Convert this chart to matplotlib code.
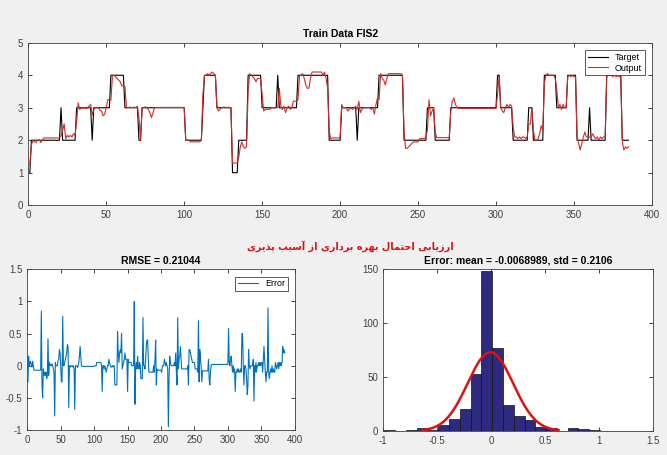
import numpy as np
import matplotlib
matplotlib.use("Agg")
from matplotlib import pyplot as plt
from matplotlib.ticker import FuncFormatter
from matplotlib import font_manager

# target levels as (value, run length)
target_runs = [(1, 1), (2, 19), (3, 1), (2, 9), (3, 10), (2, 1), (3, 11), (4, 9),
               (3, 9), (2, 2), (3, 28), (2, 11), (3, 1), (4, 8), (3, 10), (1, 4),
               (2, 6), (4, 9), (3, 10), (4, 1), (3, 12), (4, 20), (2, 8), (3, 10),
               (2, 1), (3, 13), (4, 16), (2, 15), (3, 5), (2, 10), (3, 30), (4, 2),
               (3, 8), (2, 10), (3, 3), (2, 7), (4, 8), (3, 7), (4, 6), (2, 8),
               (3, 1), (2, 10), (4, 10), (2, 5)]

# error = target - output (10 samples per row)
error = [
    -0.25, 0.15, 0.0, 0.05, 0.07, 0.0, -0.02, 0.07, 0.0, -0.07,
    -0.07, -0.07, -0.07, -0.07, -0.07, -0.07, -0.07, -0.07, -0.07, -0.07,
    0.85, -0.3, -0.5, -0.05, -0.15, -0.1, -0.15, -0.1, -0.2, -0.15,
    0.42, -0.15, 0.05, 0.0, 0.02, 0.0, 0.03, 0.0, -0.05, -0.1,
    -0.78, 0.05, 0.0, 0.0, 0.0, 0.08, 0.1, 0.25, 0.2, 0.0,
    -0.25, -0.25, 0.77, 0.0, 0.0, 0.05, 0.1, 0.15, 0.2, 0.33,
    0.3, -0.65, 0.0, 0.0, -0.02, 0.0, 0.0, -0.02, 0.0, -0.05,
    -0.68, 0.0, 0.0, 0.0, -0.03, 0.0, 0.05, 0.15, 0.3, 0.15,
    0.0, -0.01, -0.01, -0.01, -0.01, -0.01, -0.01, -0.01, -0.01, -0.01,
    -0.01, -0.01, -0.01, -0.01, -0.01, -0.01, -0.01, -0.01, -0.01, -0.01,
    0.0, 0.0, 0.0, 0.05, 0.05, 0.05, 0.05, 0.05, 0.05, 0.05,
    0.0, -0.4, 0.0, 0.0, -0.05, 0.0, -0.05, -0.1, -0.05, 0.0,
    0.0, 0.1, 0.05, 0.0, -0.02, -0.02, 0.0, -0.02, 0.0, 0.0,
    -0.3, -0.3, -0.3, -0.3, 0.53, 0.2, 0.05, 0.2, 0.25, 0.2,
    0.5, -0.05, 0.0, 0.05, 0.1, 0.2, 0.1, 0.1, 0.1, -0.4,
    0.1, 0.05, 0.05, 0.05, 0.05, 0.0, 0.0, 0.0, 0.0, 1.0,
    -0.6, -0.05, 0.05, -0.05, 0.15, 0.0, -0.05, 0.05, 0.0, -0.2,
    -0.2, -0.2, 0.75, 0.0, 0.0, -0.05, 0.1, 0.3, 0.4, 0.4,
    0.1, -0.1, -0.1, -0.1, -0.1, -0.1, -0.1, -0.1, 0.0, -0.1,
    0.1, 0.4, -0.3, -0.05, -0.07, -0.07, -0.07, -0.07, -0.07, -0.07,
    -0.1, 0.0, 0.0, 0.0, 0.1, 0.05, 0.0, 0.05, 0.0, -0.05,
    -0.95, -0.2, 0.15, 0.05, 0.0, 0.0, 0.0, 0.0, 0.0, 0.05,
    0.0, 0.2, -0.1, -0.3, 0.75, -0.05, 0.1, 0.15, 0.3, 0.1,
    -0.05, -0.05, -0.05, -0.05, -0.05, -0.05, -0.05, -0.05, -0.05, 0.0,
    -0.3, 0.25, 0.25, 0.2, 0.15, 0.1, 0.05, 0.05, 0.05, 0.05,
    -0.05, -0.05, -0.05, -0.05, -0.1, 0.7, -0.25, 0.25, 0.1, 0.0,
    -0.25, -0.08, -0.08, -0.08, -0.08, -0.08, -0.08, -0.08, -0.08, -0.08,
    0.1, -0.2, -0.3, -0.1, 0.0, 0.02, 0.02, 0.02, 0.02, 0.02,
    0.02, 0.02, 0.02, 0.02, 0.02, 0.02, 0.02, 0.02, 0.02, 0.02,
    0.02, 0.02, 0.02, 0.02, 0.02, 0.02, 0.02, 0.02, 0.02, 0.02,
    0.58, 0.05, 0.0, 0.1, 0.15, 0.0, -0.1, 0.0, -0.1, -0.05,
    -0.4, -0.1, -0.1, -0.05, -0.1, -0.05, -0.1, -0.1, -0.05, -0.1,
    0.5, 0.5, 0.0, -0.3, 0.0, 0.0, -0.05, -0.2, -0.45, -0.3,
    0.25, 0.0, -0.05, 0.0, 0.0, 0.0, 0.0, 0.1, -0.55, 0.0,
    -0.1, 0.05, -0.1, 0.0, 0.0, 0.05, 0.0, 0.05, 0.0, 0.05,
    0.05, -0.1, 0.1, 0.3, 0.1, -0.1, -0.25, -0.1, -0.1, 0.9,
    -0.1, -0.2, -0.1, -0.05, -0.1, 0.0, -0.1, -0.05, -0.1, -0.1,
    0.05, 0.0, -0.05, 0.0, 0.05, -0.05, 0.05, 0.0, 0.05, 0.0,
    0.05, 0.3, 0.2, 0.25, 0.2,
]

# histogram counts (20 bins of width 0.1 starting at -0.99)
hist_counts = [1, 0, 1, 3, 1, 6, 11, 20, 53, 148, 77, 24, 14, 10, 4, 3, 0, 3, 2, 1]
hist_start = -0.99
hist_width = 0.1

rmse = 0.21044
err_mean = -0.0068989
err_std = 0.2106

caption = "ارزیابی احتمال بهره برداری از آسیب پذیری"

# --- persian shaping (matplotlib has no RTL / joining support) ---
FORMS = {
    "ا": ("\uFE8D", "\uFE8E", None, None),
    "آ": ("\uFE81", "\uFE82", None, None),
    "ب": ("\uFE8F", "\uFE90", "\uFE91", "\uFE92"),
    "پ": ("\uFB56", "\uFB57", "\uFB58", "\uFB59"),
    "ت": ("\uFE95", "\uFE96", "\uFE97", "\uFE98"),
    "ح": ("\uFEA1", "\uFEA2", "\uFEA3", "\uFEA4"),
    "د": ("\uFEA9", "\uFEAA", None, None),
    "ذ": ("\uFEAB", "\uFEAC", None, None),
    "ر": ("\uFEAD", "\uFEAE", None, None),
    "ز": ("\uFEAF", "\uFEB0", None, None),
    "س": ("\uFEB1", "\uFEB2", "\uFEB3", "\uFEB4"),
    "ل": ("\uFEDD", "\uFEDE", "\uFEDF", "\uFEE0"),
    "م": ("\uFEE1", "\uFEE2", "\uFEE3", "\uFEE4"),
    "ه": ("\uFEE9", "\uFEEA", "\uFEEB", "\uFEEC"),
    "ی": ("\uFBFC", "\uFBFD", "\uFBFE", "\uFBFF"),
}


def shape_word(w):
    out = []
    for i, c in enumerate(w):
        iso, fin, ini, med = FORMS[c]
        prev_join = i > 0 and FORMS[w[i - 1]][2] is not None
        next_join = i < len(w) - 1 and ini is not None
        if prev_join and next_join:
            out.append(med)
        elif prev_join:
            out.append(fin)
        elif next_join:
            out.append(ini)
        else:
            out.append(iso)
    return "".join(reversed(out))


def shape_rtl(s):
    return " ".join(shape_word(w) for w in reversed(s.split()))


names = {f.name for f in font_manager.fontManager.ttflist}
fam = [f for f in ["Liberation Sans Narrow", "Liberation Sans", "DejaVu Sans"] if f in names]
plt.rcParams["font.family"] = fam
plt.rcParams["axes.unicode_minus"] = False

target = np.repeat([v for v, n in target_runs], [n for v, n in target_runs]).astype(float)
error = np.array(error)
assert len(error) == len(target)
output = target - error
x = np.arange(1, len(target) + 1)

fig = plt.figure(figsize=(6.67, 4.55), dpi=100, facecolor="#F0F0F0")

tick_col = "#262626"
fmt = FuncFormatter(lambda v, p: "%g" % v)


def matlab_style(ax):
    ax.tick_params(direction="in", top=True, right=True, labelsize=7,
                   length=3, width=0.6, colors=tick_col, labelcolor="#404040")
    for s in ax.spines.values():
        s.set_linewidth(0.6)
        s.set_color("#404040")
    ax.xaxis.set_major_formatter(fmt)
    ax.yaxis.set_major_formatter(fmt)


# top: target vs output
ax1 = fig.add_axes([0.0424, 0.549, 0.935, 0.357])
ax1.plot(x, target, color="k", lw=0.8, label="Target")
ax1.plot(x, output, color="#d42a2a", lw=0.8, label="Output")
ax1.set_xlim(0, 400)
ax1.set_ylim(0, 5)
ax1.set_xticks(np.arange(0, 401, 50))
ax1.set_yticks(np.arange(0, 6, 1))
ax1.set_title("Train Data FIS2", fontsize=7.5, fontweight="bold", pad=4)
matlab_style(ax1)
leg = ax1.legend(loc="upper right", fontsize=6.5, fancybox=False, framealpha=1,
                 edgecolor="#404040", borderpad=0.3, handlelength=2.2,
                 labelspacing=0.2, borderaxespad=0.8)
leg.get_frame().set_linewidth(0.6)

# bottom left: error
ax2 = fig.add_axes([0.0409, 0.055, 0.401, 0.353])
ax2.plot(x, error, color="#0072BD", lw=0.8, label="Error")
ax2.set_xlim(0, 400)
ax2.set_ylim(-1, 1.5)
ax2.set_xticks(np.arange(0, 401, 50))
ax2.set_yticks(np.arange(-1, 1.51, 0.5))
ax2.set_title("RMSE = %g" % rmse, fontsize=7.5, fontweight="bold", pad=4)
matlab_style(ax2)
leg2 = ax2.legend(loc="upper right", fontsize=6.5, fancybox=False, framealpha=1,
                  edgecolor="#404040", borderpad=0.3, handlelength=2.2,
                  borderaxespad=0.8)
leg2.get_frame().set_linewidth(0.6)

# bottom right: histogram + normal fit
ax3 = fig.add_axes([0.5747, 0.0527, 0.404, 0.356])
centers = hist_start + hist_width * (np.arange(len(hist_counts)) + 0.5)
ax3.bar(centers, hist_counts, width=hist_width, color="#2E2A80",
        edgecolor="#111111", linewidth=0.5)
xs = np.linspace(err_mean - 3 * err_std, err_mean + 3 * err_std, 200)
pdf = np.exp(-0.5 * ((xs - err_mean) / err_std) ** 2) / (err_std * np.sqrt(2 * np.pi))
ax3.plot(xs, len(error) * hist_width * pdf, color="#e01010", lw=1.8)
ax3.set_xlim(-1, 1.5)
ax3.set_ylim(0, 150)
ax3.set_xticks(np.arange(-1, 1.51, 0.5))
ax3.set_yticks(np.arange(0, 151, 50))
ax3.set_title("Error: mean = %g, std = %g" % (err_mean, err_std),
              fontsize=7.5, fontweight="bold", pad=4)
matlab_style(ax3)

fig.text(0.525, 0.458, shape_rtl(caption), color="#e01010", fontsize=7,
         fontweight="bold", ha="center", va="center",
         family=["DejaVu Sans"])

fig.savefig("out.png", dpi=100, facecolor=fig.get_facecolor())
